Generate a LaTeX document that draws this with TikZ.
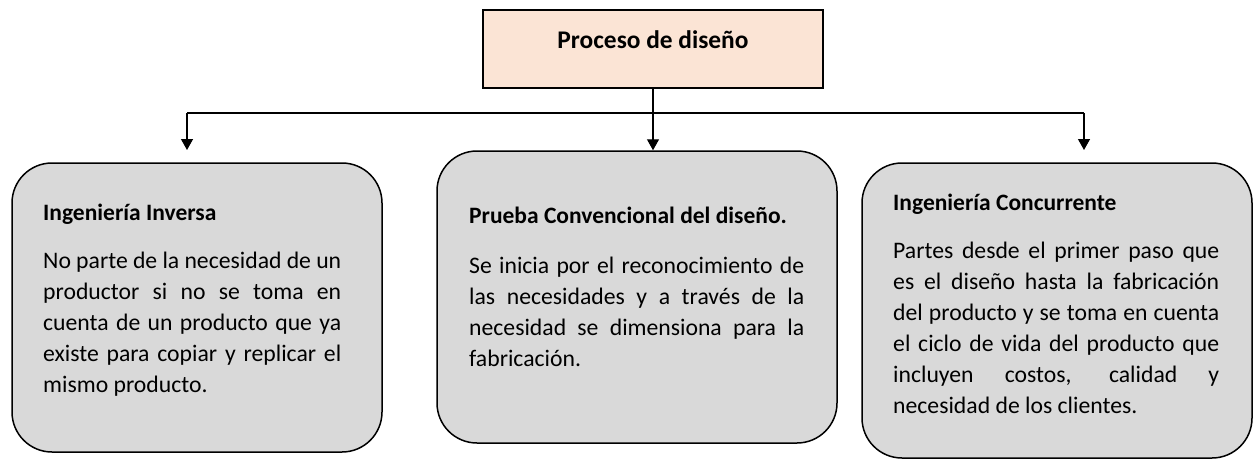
\documentclass[tikz,border=0pt]{standalone}
\usepackage{fontspec}
\setmainfont{Carlito}
\usetikzlibrary{arrows.meta}
\definecolor{peach}{HTML}{FBE4D5}
\definecolor{boxgray}{HTML}{D9D9D9}
\tikzset{
  topbox/.style={draw=black, line width=1.5pt, fill=peach, minimum width=340pt, minimum height=78pt, inner sep=0pt},
  catbox/.style={draw=black, line width=1.5pt, fill=boxgray, rounded corners=40pt, inner sep=0pt},
  toplabel/.style={font=\fontsize{25.4}{30}\selectfont\bfseries, anchor=base, inner sep=0pt},
  titlelabel/.style={font=\fontsize{23.5}{28}\selectfont\bfseries, anchor=base west, inner sep=0pt},
  bodytext/.style={font=\fontsize{23.7}{31}\selectfont, anchor=north west, inner sep=0pt, align=justify},
  conn/.style={draw=black, line width=1.3pt},
  arr/.style={conn, -{Triangle[width=12pt,length=11pt]}}
}
\begin{document}
\begin{tikzpicture}[x=1pt, y=-1pt]
\useasboundingbox (0,0) rectangle (1258,461);
\hyphenpenalty=10000 \exhyphenpenalty=10000
% boxes
\node[topbox] (top) at (653,49) {};
\node[toplabel] (toptitle) at (653,48) {Proceso de diseño};
\node[catbox, minimum width=370pt, minimum height=289pt] (lb) at (197,307.5) {};
\node[catbox, minimum width=400pt, minimum height=292pt] (mb) at (637,297) {};
\node[catbox, minimum width=390pt, minimum height=295pt] (rb) at (1057,310.5) {};
% titles
\node[titlelabel] (lt) at (43,220) {Ingeniería Inversa};
\node[titlelabel] (mt) at (469,223) {Prueba Convencional del diseño.};
\node[titlelabel] (rt) at (893,210) {Ingeniería Concurrente};
% bodies
\node[bodytext, text width=298pt] (lbody) at (43,246.3) {\strut No parte de la necesidad de un\linebreak productor si no se toma en\linebreak cuenta de un producto que ya\linebreak existe para copiar y replicar el\linebreak mismo producto.};
\node[bodytext, text width=335pt] (mbody) at (469,251.3) {\strut Se inicia por el reconocimiento de\linebreak las necesidades y a través de la\linebreak necesidad se dimensiona para la\linebreak fabricación.};
\node[bodytext, text width=326pt] (rbody) at (893,236.3) {\strut Partes desde el primer paso que\linebreak es el diseño hasta la fabricación\linebreak del producto y se toma en cuenta\linebreak el ciclo de vida del producto que\linebreak incluyen costos, calidad y\linebreak necesidad de los clientes.};
% connectors
\coordinate (hl) at (187,113);
\coordinate (hr) at (1084,113);
\coordinate (la) at (187,150);
\coordinate (ra) at (1084,150);
\draw[conn] (hl) -- (hr);
\draw[arr] (top.south) -- (top.south |- mb.north);
\draw[arr] (hl) -- (la);
\draw[arr] (hr) -- (ra);
\end{tikzpicture}
\end{document}
